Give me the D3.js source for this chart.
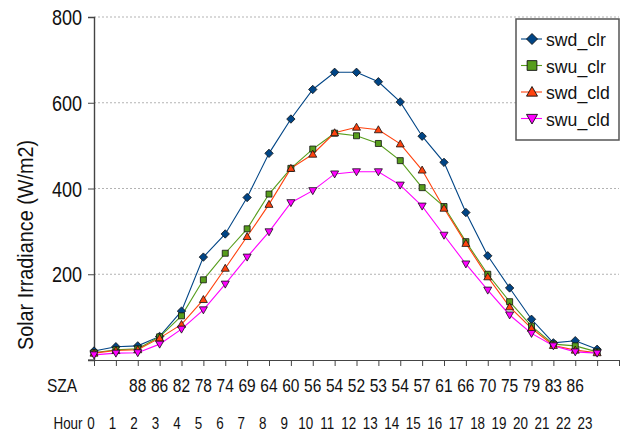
<!DOCTYPE html>
<html>
<head>
<meta charset="utf-8">
<script src="https://d3js.org/d3.v7.min.js"></script>
<style>
  body { margin: 0; background: #fff; }
  svg { display: block; font-family: "Liberation Sans", Arial, sans-serif; }
</style>
</head>
<body>
<svg id="chart" width="623" height="439"></svg>
<script>
// data
const hours = d3.range(0, 24);
const swdClr = [21, 31, 33, 55, 114, 240, 294, 379, 482, 562, 631, 671, 671, 649, 602, 522, 461, 344, 243, 168, 95, 40, 45, 25];
const swuClr = [17, 24, 26, 54, 103, 187, 249, 306, 387, 447, 492, 529, 523, 505, 465, 402, 358, 276, 200, 136, 79, 37, 33, 19];
const swdCld = [16, 22, 24, 51, 83, 141, 214, 288, 363, 447, 480, 530, 543, 537, 504, 443, 354, 272, 194, 124, 74, 34, 23, 17];
const swuCld = [12, 16, 17, 37, 72, 117, 177, 240, 299, 367, 395, 434, 439, 439, 408, 359, 291, 224, 163, 105, 62, 33, 19, 16];
const seriesNames = ["swd_clr", "swu_clr", "swd_cld", "swu_cld"];
const yTicks = [200, 400, 600, 800];
// solar zenith angle labels, first two hours have none
const szaLabels = ["", "", "88", "86", "82", "78", "74", "69", "64", "60", "56", "54", "52", "53", "54", "57", "61", "66", "70", "75", "79", "83", "86", ""];

const colors = ["#004586", "#579d1c", "#ff420e", "#ff00ff"];
const shapes = ["diamond", "square", "up", "down"];
const series = [swdClr, swuClr, swdCld, swuCld].map((vals, i) => ({
  name: seriesNames[i], values: vals, color: colors[i], shape: shapes[i]
}));

const SQ = 0.84; // text in the picture is horizontally squeezed
const ink = "#111";

const svg = d3.select("#chart");
const x = d3.scaleLinear().domain([0, 24]).range([94, 619]);
const y = d3.scaleLinear().domain([0, 800]).range([360, 17]);
const hourX = d3.scaleLinear().domain([0, 23]).range([91, 585]);

function markerPath(shape, s) {
  // s = half size
  if (shape === "diamond") return `M0,${-s}L${s},0L0,${s}L${-s},0Z`;
  if (shape === "square") return `M${-s * 0.75},${-s * 0.75}h${s * 1.5}v${s * 1.5}h${-s * 1.5}Z`;
  if (shape === "up") return `M0,${-s}L${s},${s * 0.75}L${-s},${s * 0.75}Z`;
  return `M0,${s}L${s},${-s * 0.75}L${-s},${-s * 0.75}Z`;
}

// gridlines
svg.append("g")
  .selectAll("line")
  .data(yTicks)
  .join("line")
    .attr("x1", x(0)).attr("x2", x(24))
    .attr("y1", d => y(d)).attr("y2", d => y(d))
    .attr("stroke", "#b3b3b3")
    .attr("stroke-dasharray", "2,2");

// y axis
const yAxis = svg.append("g")
  .attr("transform", `translate(${x(0)},0)`)
  .call(d3.axisLeft(y).tickValues([0].concat(yTicks)).tickSize(6).tickFormat(d => d === 0 ? "" : d));
yAxis.select(".domain").attr("stroke", "#444").attr("stroke-width", 1.4);
yAxis.selectAll(".tick line").attr("stroke", "#444");
yAxis.selectAll(".tick text")
  .attr("font-size", 21.5)
  .attr("fill", ink)
  .attr("font-family", "Liberation Sans, Arial, sans-serif")
  .attr("x", 0)
  .attr("dy", "0.35em")
  .attr("transform", `translate(-12,0) scale(${SQ},1)`);

// x axis: tick per hour, no labels
const xAxis = svg.append("g")
  .attr("transform", `translate(0,${y(0)})`)
  .call(d3.axisBottom(x).tickValues(d3.range(0, 25)).tickSize(6).tickSizeOuter(0).tickFormat(""));
xAxis.select(".domain").attr("stroke", "#444").attr("stroke-width", 1.2);
xAxis.selectAll(".tick line").attr("stroke", "#444");
svg.append("line")
  .attr("x1", x(0) - 6).attr("x2", x(0))
  .attr("y1", y(0)).attr("y2", y(0))
  .attr("stroke", "#444");

// lines and markers
const line = d3.line().x((d, i) => x(i)).y(d => y(d));
series.forEach(s => {
  svg.append("path")
    .datum(s.values)
    .attr("d", line)
    .attr("fill", "none")
    .attr("stroke", s.color)
    .attr("stroke-width", 1.1);
});
series.forEach(s => {
  const size = s.shape === "square" ? 4 : s.shape === "diamond" ? 4.2 : 4;
  svg.append("g")
    .selectAll("path")
    .data(s.values)
    .join("path")
      .attr("transform", (d, i) => `translate(${x(i)},${y(d)})`)
      .attr("d", markerPath(s.shape, size))
      .attr("fill", s.color)
      .attr("stroke", "#111")
      .attr("stroke-width", 0.8);
});

// y axis title
svg.append("text")
  .attr("transform", "translate(33,245) rotate(-90)")
  .attr("text-anchor", "middle")
  .attr("font-size", 22)
  .attr("fill", ink)
  .attr("textLength", 210)
  .attr("lengthAdjust", "spacingAndGlyphs")
  .text("Solar Irradiance (W/m2)");

// legend
const lg = svg.append("g").attr("transform", "translate(516,19)");
lg.append("rect")
  .attr("width", 103).attr("height", 121)
  .attr("fill", "#fff")
  .attr("stroke", "#555")
  .attr("stroke-width", 1.5);
series.forEach((s, i) => {
  const ry = 20 + i * 26.5;
  lg.append("line")
    .attr("x1", 5).attr("x2", 26)
    .attr("y1", ry).attr("y2", ry)
    .attr("stroke", s.color).attr("stroke-width", 1.1);
  lg.append("path")
    .attr("transform", `translate(16,${ry})`)
    .attr("d", markerPath(s.shape, s.shape === "square" ? 6.5 : 5.5))
    .attr("fill", s.color)
    .attr("stroke", "#111")
    .attr("stroke-width", 0.9);
  lg.append("text")
    .attr("transform", `translate(30,${ry + 7}) scale(0.93,1)`)
    .attr("font-size", 19)
    .attr("fill", ink)
    .text(s.name);
});

// SZA row
svg.append("text")
  .attr("transform", `translate(62,391.5) scale(${SQ},1)`)
  .attr("text-anchor", "middle")
  .attr("font-size", 18.5)
  .attr("fill", ink)
  .text("SZA");
svg.append("g")
  .selectAll("text")
  .data(szaLabels)
  .join("text")
    .attr("transform", (d, i) => `translate(${x(i)},391.5) scale(${SQ},1)`)
    .attr("text-anchor", "middle")
    .attr("font-size", 18.5)
    .attr("fill", ink)
    .text(d => d);

// Hour row
svg.append("text")
  .attr("transform", `translate(68,428.5) scale(${SQ},1)`)
  .attr("text-anchor", "middle")
  .attr("font-size", 16)
  .attr("fill", ink)
  .text("Hour");
svg.append("g")
  .selectAll("text")
  .data(hours)
  .join("text")
    .attr("transform", d => `translate(${hourX(d)},428.5) scale(${SQ},1)`)
    .attr("text-anchor", "middle")
    .attr("font-size", 16)
    .attr("fill", ink)
    .text(d => d);
</script>
</body>
</html>
